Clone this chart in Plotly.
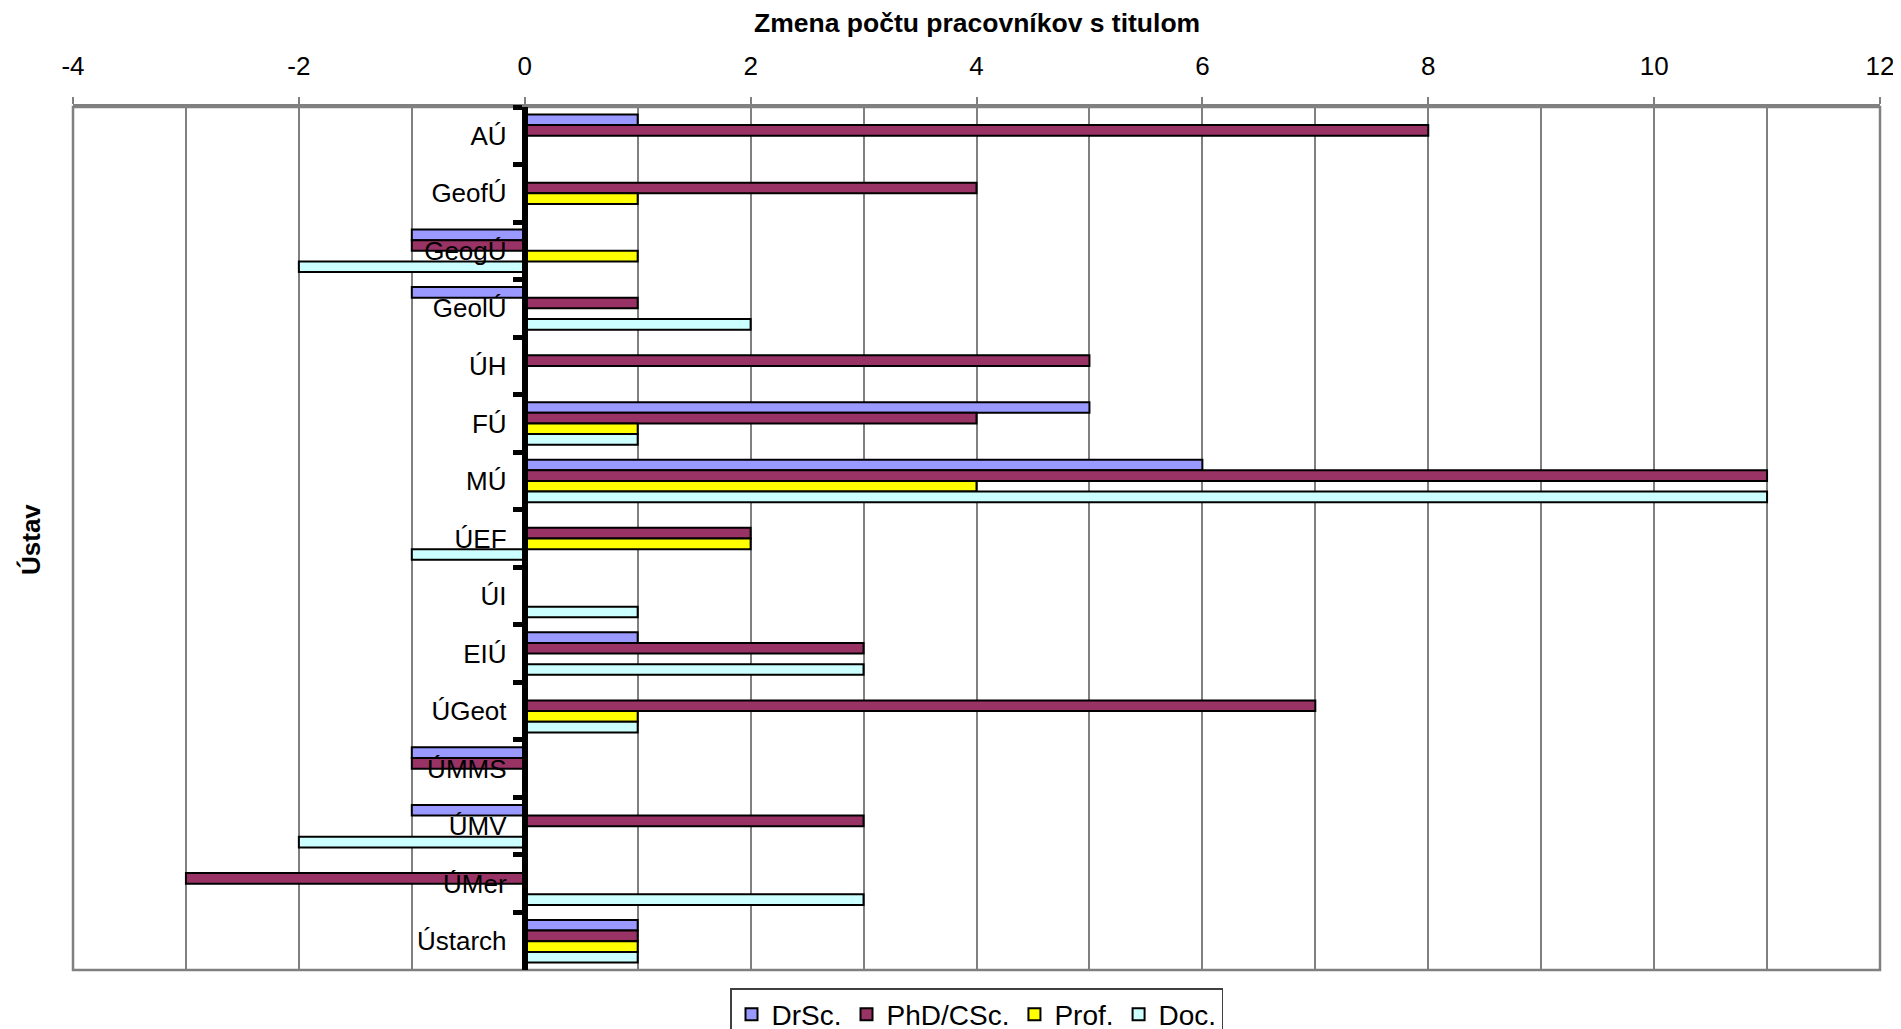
import plotly.graph_objects as go

categories = ["AÚ", "GeofÚ", "GeogÚ", "GeolÚ", "ÚH", "FÚ", "MÚ", "ÚEF", "ÚI",
              "EIÚ", "ÚGeot", "ÚMMS", "ÚMV", "ÚMer", "Ústarch"]
drsc = [1, 0, -1, -1, 0, 5, 6, 0, 0, 1, 0, -1, -1, 0, 1]
phd = [8, 4, -1, 1, 5, 4, 11, 2, 0, 3, 7, -1, 3, -3, 1]
prof = [0, 1, 1, 0, 0, 1, 4, 2, 0, 0, 1, 0, 0, 0, 1]
doc = [0, 0, -2, 2, 0, 1, 11, -1, 1, 3, 1, 0, -2, 3, 1]

x_tick_values = [-4, -2, 0, 2, 4, 6, 8, 10, 12]
x_tick_labels = ["-4", "-2", "0", "2", "4", "6", "8", "10", "12"]

series = [
    ("DrSc.", drsc, "#9999FF"),
    ("PhD/CSc.", phd, "#993366"),
    ("Prof.", prof, "#FFFF00"),
    ("Doc.", doc, "#CCFFFF"),
]

FONT = "Liberation Sans, Arial, sans-serif"
FS = 26

fig = go.Figure()
for name, vals, color in series:
    fig.add_trace(go.Bar(
        y=categories, x=vals, name=name, orientation="h",
        marker=dict(color=color, line=dict(color="black", width=2)),
    ))

# page body has an 8px margin, so figure coords = screen coords - 8
W, H = 1901, 1029
ml, mr, mt, mb = 65, 29, 99, 67
pw = W - ml - mr
ph = H - mt - mb

fig.update_layout(
    width=W, height=H,
    margin=dict(l=ml, r=mr, t=mt, b=mb, autoexpand=False),
    paper_bgcolor="white", plot_bgcolor="white",
    font=dict(family=FONT, size=FS, color="black"),
    barmode="group", bargap=0.26, bargroupgap=0,
    showlegend=True,
    legend=dict(
        orientation="h", x=0.5, xanchor="center",
        yref="container", y=1 - 980 / H, yanchor="top",
        bordercolor="#404040", borderwidth=1.5,
        font=dict(size=28, family=FONT),
        traceorder="normal", itemwidth=30,
    ),
    xaxis=dict(
        side="top", range=[-4, 12],
        tickmode="array", tickvals=x_tick_values, ticktext=x_tick_labels,
        showgrid=True, gridcolor="#808080", gridwidth=1.5,
        minor=dict(dtick=1, tick0=0, showgrid=True, gridcolor="#808080", gridwidth=1.5),
        ticks="outside", ticklen=7, tickcolor="#808080", tickwidth=1.5,
        showline=True, linecolor="#808080", linewidth=2.5,
        zeroline=False, automargin=False,
        tickfont=dict(size=FS, family=FONT),
        ticklabelstandoff=12,
    ),
    yaxis=dict(
        type="category", autorange="reversed",
        anchor="free", position=0.25,
        showline=True, linecolor="black", linewidth=6,
        ticks="outside", tickson="boundaries", ticklen=9, tickwidth=5,
        tickcolor="black",
        showgrid=False, zeroline=False, automargin=False,
        tickfont=dict(size=FS, family=FONT),
        ticklabelstandoff=10,
    ),
    annotations=[
        dict(text="<b>Zmena počtu pracovníkov s titulom</b>",
             xref="paper", yref="paper", x=0.5, y=(H - mb - 15) / ph,
             xanchor="center", yanchor="middle", showarrow=False,
             font=dict(size=26.5, family=FONT)),
        dict(text="<b>Ústav</b>", textangle=-90,
             xref="paper", yref="paper", x=(23 - ml) / pw, y=(H - mb - 532) / ph,
             xanchor="center", yanchor="middle", showarrow=False,
             font=dict(size=FS, family=FONT)),
    ],
    shapes=[
        dict(type="rect", xref="paper", yref="paper", x0=0, x1=1, y0=0, y1=1,
             line=dict(color="#808080", width=2.5), layer="below"),
    ],
)

fig.write_html("out.html")
